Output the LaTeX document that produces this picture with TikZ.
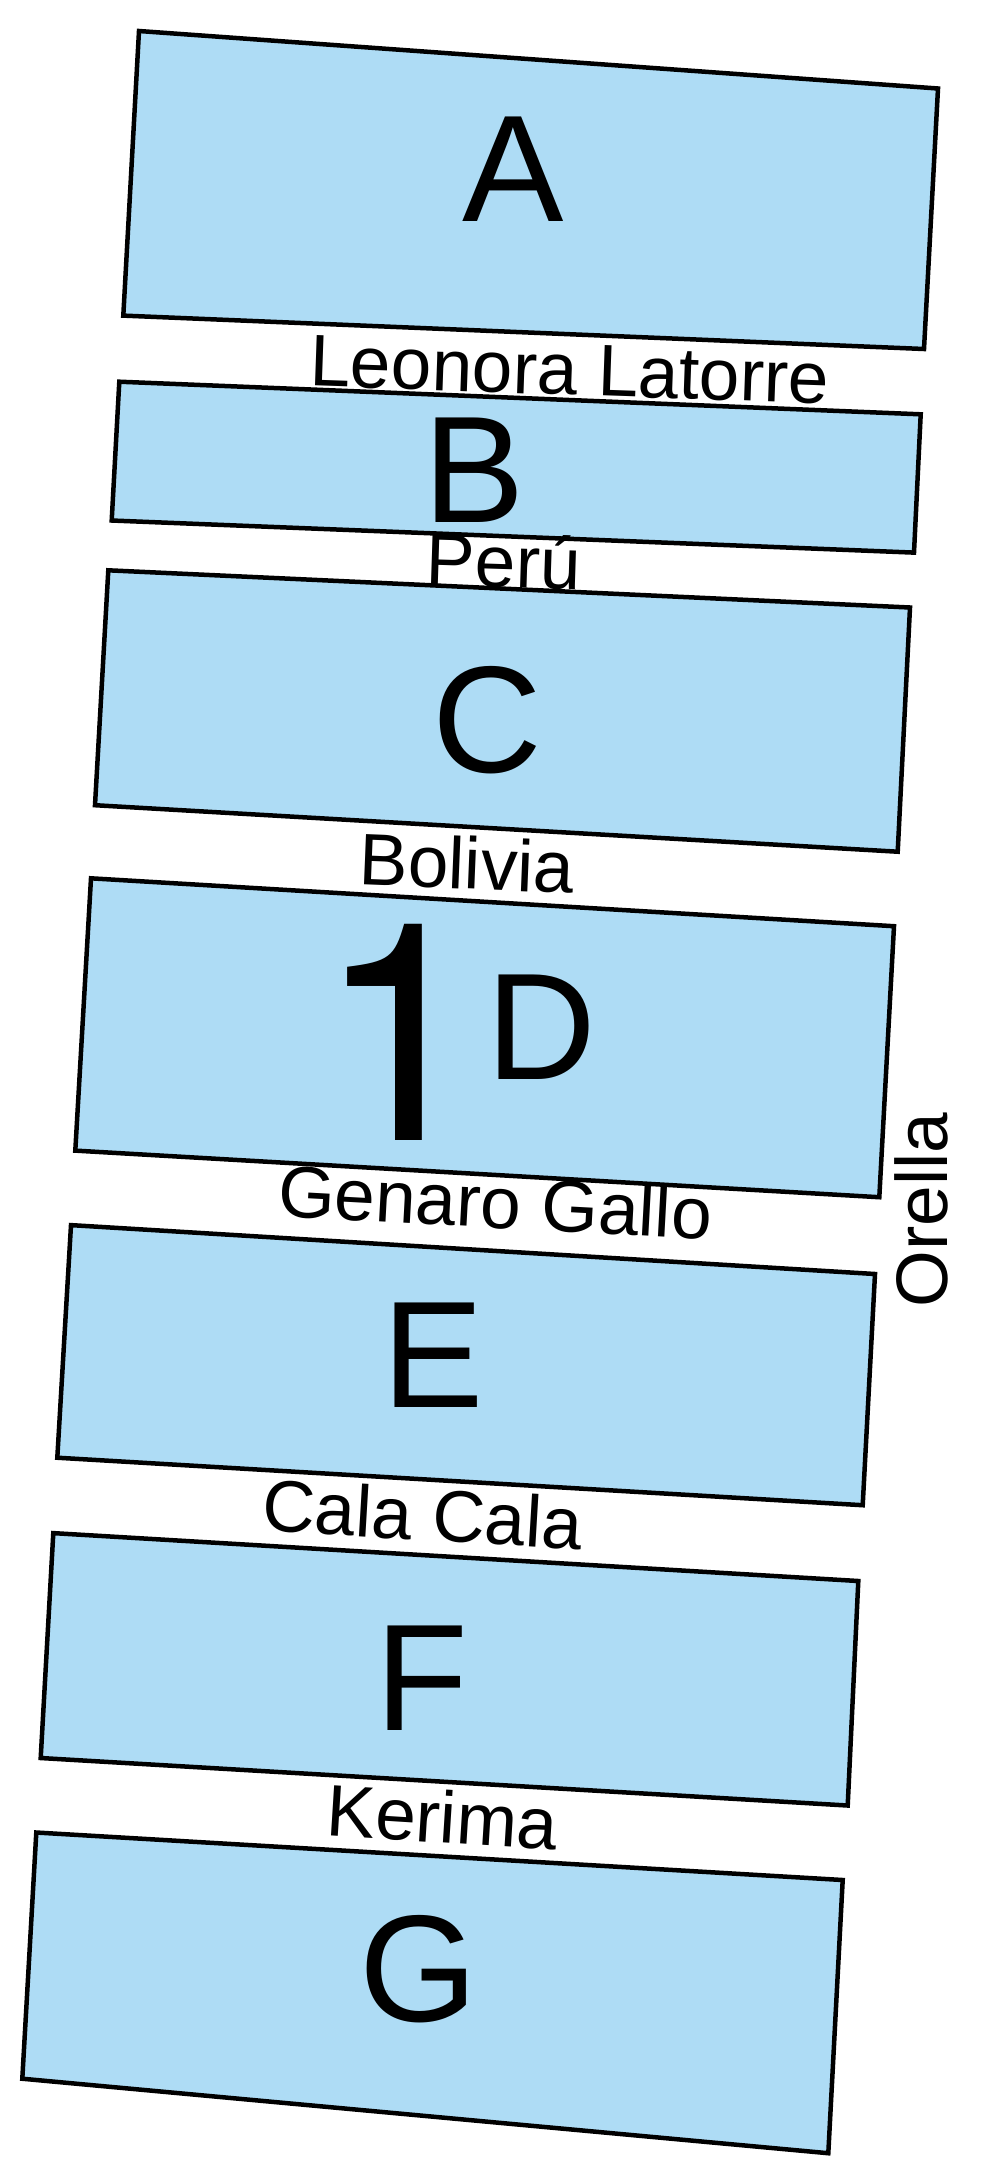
\documentclass[tikz,border=0pt]{standalone}
\usepackage{fontspec}
\setmainfont{Liberation Sans}
\newfontfamily\onefont{TeX Gyre Heros}
\definecolor{blockblue}{RGB}{174,220,245}
\begin{document}
\begin{tikzpicture}[x=1pt,y=-1pt,
  block/.style={draw=black,fill=blockblue,line width=4.5pt,line join=miter},
  biglabel/.style={inner sep=0pt,font=\fontsize{152}{160}\selectfont},
  street/.style={inner sep=0pt,anchor=base,font=\fontsize{73}{83}\selectfont}]
\useasboundingbox (0,0) rectangle (991,2164);
% blocks
\draw[block] (139,31) -- (938,88.5) -- (924,349) -- (123.3,315.6) -- cycle;
\draw[block] (119.3,381.7) -- (920.7,414.3) -- (914,552.6) -- (111.7,520.5) -- cycle;
\draw[block] (108.3,570.3) -- (910,607.5) -- (897.7,851.7) -- (95,805.2) -- cycle;
\draw[block] (91,878.3) -- (894,926.2) -- (879.3,1197.2) -- (75.3,1150.6) -- cycle;
\draw[block] (71,1225.1) -- (875,1274) -- (862.7,1505.2) -- (57.3,1457.7) -- cycle;
\draw[block] (53.3,1533.1) -- (858.3,1581) -- (847.7,1805.5) -- (40.7,1758) -- cycle;
\draw[block] (36.3,1832.5) -- (842.7,1880) -- (828.3,2153.2) -- (22.3,2078.7) -- cycle;
% block letters
\node[biglabel] (lA) at (513.5,169) {A};
\node[biglabel] (lB) at (474,470) {B};
\node[biglabel] (lC) at (487,720) {C};
\node[inner sep=0pt,font=\onefont\fontsize{305}{320}\selectfont] (l1) at (401,1032) {1};
\node[biglabel] (lD) at (541,1027) {D};
\node[biglabel] (lE) at (433,1355) {E};
\node[biglabel] (lF) at (421.5,1678) {F};
\node[biglabel] (lG) at (418.5,1969) {G};
% street names
\node[street,rotate=-2] (sLeonora) at (569,395) {Leonora Latorre};
\node[street,rotate=-1.8] (sPeru) at (503,587) {Perú};
\node[street,rotate=-2.3] (sBolivia) at (466,889) {Bolivia};
\node[street,rotate=-3.1] (sGenaro) at (494,1228) {Genaro Gallo};
\node[street,rotate=-3.4] (sCala) at (421,1540) {Cala Cala};
\node[street,rotate=-3.6] (sKerima) at (441,1843) {Kerima};
\node[street,rotate=90] (sOrella) at (947,1210) {Orella};
\end{tikzpicture}
\end{document}
